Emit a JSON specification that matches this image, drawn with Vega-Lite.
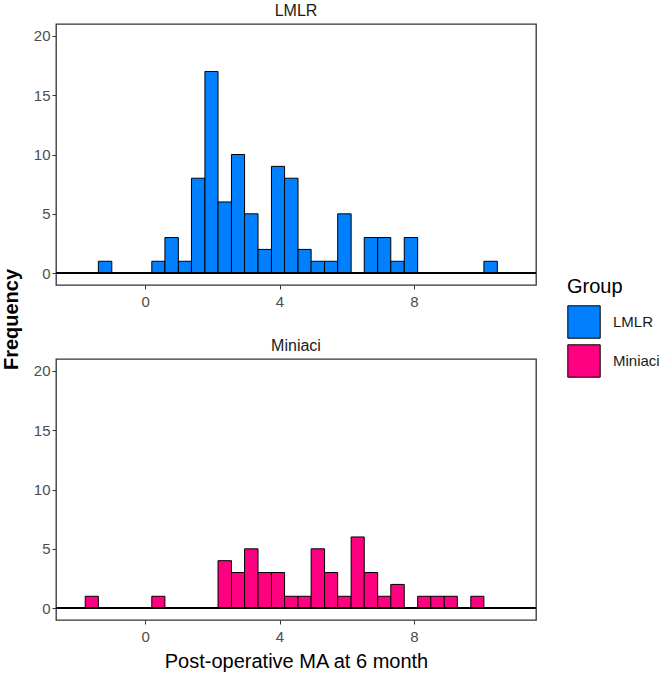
{
  "$schema": "https://vega.github.io/schema/vega-lite/v6.json",
  "padding": {"left": 0, "top": 2, "right": 5, "bottom": 5},
  "background": "white",
  "bounds": "flush",
  "config": {
    "font": "Liberation Sans",
    "view": {"stroke": "#333333", "strokeWidth": 1.3},
    "axis": {"grid": false, "domain": false, "tickColor": "#333333", "tickSize": 4, "labelColor": "#4d4d4d", "labelFontSize": 15, "labelPadding": 2, "labelFont": "Liberation Sans", "titleFont": "Liberation Sans", "titleColor": "#000000", "titleFontWeight": "normal", "titleFontSize": 20},
    "axisX": {"labelPadding": 5},
    "title": {"font": "Liberation Sans", "fontSize": 16, "fontWeight": "normal", "color": "#1a1a1a", "offset": 5}
  },
  "data": {"values": [
    {"group": "LMLR", "bin_start": -1.39, "bin_end": -0.99, "count": 1},
    {"group": "LMLR", "bin_start": 0.20, "bin_end": 0.59, "count": 1},
    {"group": "LMLR", "bin_start": 0.59, "bin_end": 0.99, "count": 3},
    {"group": "LMLR", "bin_start": 0.99, "bin_end": 1.38, "count": 1},
    {"group": "LMLR", "bin_start": 1.38, "bin_end": 1.78, "count": 8},
    {"group": "LMLR", "bin_start": 1.78, "bin_end": 2.17, "count": 17},
    {"group": "LMLR", "bin_start": 2.17, "bin_end": 2.57, "count": 6},
    {"group": "LMLR", "bin_start": 2.57, "bin_end": 2.96, "count": 10},
    {"group": "LMLR", "bin_start": 2.96, "bin_end": 3.36, "count": 5},
    {"group": "LMLR", "bin_start": 3.36, "bin_end": 3.76, "count": 2},
    {"group": "LMLR", "bin_start": 3.76, "bin_end": 4.15, "count": 9},
    {"group": "LMLR", "bin_start": 4.15, "bin_end": 4.55, "count": 8},
    {"group": "LMLR", "bin_start": 4.55, "bin_end": 4.94, "count": 2},
    {"group": "LMLR", "bin_start": 4.94, "bin_end": 5.34, "count": 1},
    {"group": "LMLR", "bin_start": 5.34, "bin_end": 5.73, "count": 1},
    {"group": "LMLR", "bin_start": 5.73, "bin_end": 6.13, "count": 5},
    {"group": "LMLR", "bin_start": 6.52, "bin_end": 6.92, "count": 3},
    {"group": "LMLR", "bin_start": 6.92, "bin_end": 7.31, "count": 3},
    {"group": "LMLR", "bin_start": 7.31, "bin_end": 7.71, "count": 1},
    {"group": "LMLR", "bin_start": 7.71, "bin_end": 8.11, "count": 3},
    {"group": "LMLR", "bin_start": 10.08, "bin_end": 10.48, "count": 1},
    {"group": "Miniaci", "bin_start": -1.78, "bin_end": -1.39, "count": 1},
    {"group": "Miniaci", "bin_start": 0.20, "bin_end": 0.59, "count": 1},
    {"group": "Miniaci", "bin_start": 2.17, "bin_end": 2.57, "count": 4},
    {"group": "Miniaci", "bin_start": 2.57, "bin_end": 2.96, "count": 3},
    {"group": "Miniaci", "bin_start": 2.96, "bin_end": 3.36, "count": 5},
    {"group": "Miniaci", "bin_start": 3.36, "bin_end": 3.76, "count": 3},
    {"group": "Miniaci", "bin_start": 3.76, "bin_end": 4.15, "count": 3},
    {"group": "Miniaci", "bin_start": 4.15, "bin_end": 4.55, "count": 1},
    {"group": "Miniaci", "bin_start": 4.55, "bin_end": 4.94, "count": 1},
    {"group": "Miniaci", "bin_start": 4.94, "bin_end": 5.34, "count": 5},
    {"group": "Miniaci", "bin_start": 5.34, "bin_end": 5.73, "count": 3},
    {"group": "Miniaci", "bin_start": 5.73, "bin_end": 6.13, "count": 1},
    {"group": "Miniaci", "bin_start": 6.13, "bin_end": 6.52, "count": 6},
    {"group": "Miniaci", "bin_start": 6.52, "bin_end": 6.92, "count": 3},
    {"group": "Miniaci", "bin_start": 6.92, "bin_end": 7.31, "count": 1},
    {"group": "Miniaci", "bin_start": 7.31, "bin_end": 7.71, "count": 2},
    {"group": "Miniaci", "bin_start": 8.11, "bin_end": 8.50, "count": 1},
    {"group": "Miniaci", "bin_start": 8.50, "bin_end": 8.90, "count": 1},
    {"group": "Miniaci", "bin_start": 8.90, "bin_end": 9.29, "count": 1},
    {"group": "Miniaci", "bin_start": 9.69, "bin_end": 10.08, "count": 1}
  ]},
  "spacing": 74,
  "vconcat": [
    {
      "title": "LMLR",
      "width": 480,
      "height": 261,
      "transform": [{"filter": "datum.group === 'LMLR'"}],
      "layer": [
        {
          "mark": {"type": "bar", "stroke": "#000000", "strokeWidth": 1},
          "encoding": {
            "x": {"field": "bin_start", "type": "quantitative", "scale": {"domain": [-2.65, 11.63], "nice": false, "zero": false}, "axis": {"values": [0, 4, 8], "title": null}},
            "x2": {"field": "bin_end"},
            "y": {"field": "count", "type": "quantitative", "scale": {"domain": [-1, 21], "nice": false, "zero": false}, "axis": {"values": [0, 5, 10, 15, 20], "title": "Frequency", "titleFontWeight": "bold", "titleX": -45, "titleY": 295, "titleAngle": 270, "titleAlign": "center", "titleBaseline": "middle"}},
            "y2": {"datum": 0},
            "color": {"field": "group", "type": "nominal", "scale": {"domain": ["LMLR", "Miniaci"], "range": ["#0080FF", "#FF0080"]}, "legend": {"title": "Group", "orient": "none", "legendX": 511, "legendY": 253, "titleFontSize": 20, "titleFontWeight": "normal", "titleColor": "#000000", "titlePadding": 8, "labelFontSize": 15, "labelColor": "#1a1a1a", "labelOffset": 12, "symbolType": "square", "symbolSize": 1050, "symbolStrokeColor": "#000000", "symbolStrokeWidth": 1, "symbolOpacity": 1, "rowPadding": 1}}
          }
        },
        {
          "mark": {"type": "rule", "color": "#000000", "strokeWidth": 1},
          "encoding": {"y": {"datum": 0}}
        }
      ]
    },
    {
      "title": "Miniaci",
      "width": 480,
      "height": 261,
      "transform": [{"filter": "datum.group === 'Miniaci'"}],
      "layer": [
        {
          "mark": {"type": "bar", "stroke": "#000000", "strokeWidth": 1},
          "encoding": {
            "x": {"field": "bin_start", "type": "quantitative", "scale": {"domain": [-2.65, 11.63], "nice": false, "zero": false}, "axis": {"values": [0, 4, 8], "title": "Post-operative MA at 6 month", "titlePadding": 7}},
            "x2": {"field": "bin_end"},
            "y": {"field": "count", "type": "quantitative", "scale": {"domain": [-1, 21], "nice": false, "zero": false}, "axis": {"values": [0, 5, 10, 15, 20], "title": null}},
            "y2": {"datum": 0},
            "color": {"field": "group", "type": "nominal", "scale": {"domain": ["LMLR", "Miniaci"], "range": ["#0080FF", "#FF0080"]}}
          }
        },
        {
          "mark": {"type": "rule", "color": "#000000", "strokeWidth": 1},
          "encoding": {"y": {"datum": 0}}
        }
      ]
    }
  ]
}
